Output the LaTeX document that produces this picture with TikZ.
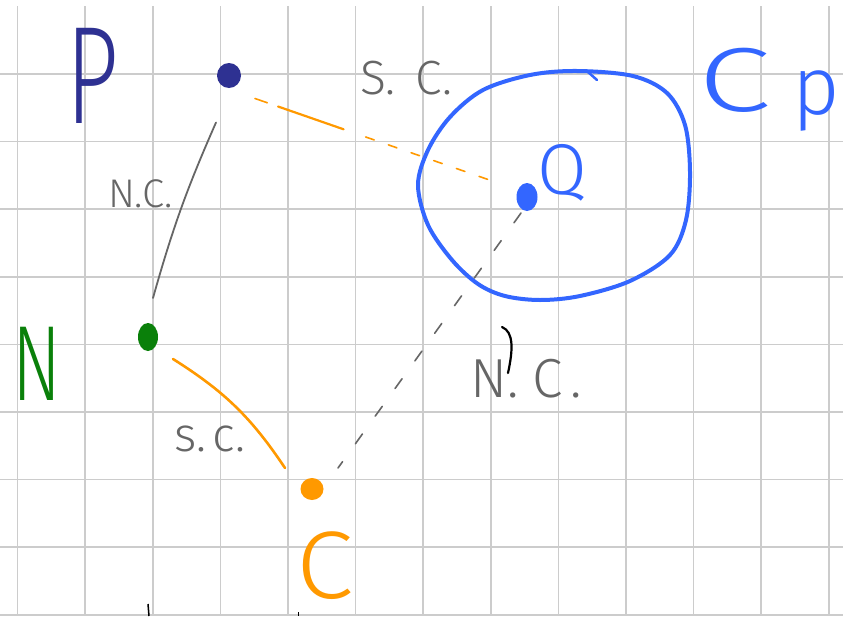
\documentclass[tikz,border=0pt]{standalone}
\usepackage{fontspec}
\usepackage{graphicx}
\newfontfamily\hand{Fira Sans Light}
\usetikzlibrary{calc,shapes.geometric}
\definecolor{pblue}{HTML}{2E3192}
\definecolor{qblue}{HTML}{3366FF}
\definecolor{ngreen}{HTML}{0A800A}
\definecolor{corange}{HTML}{FF9900}
\definecolor{lgray}{HTML}{666666}
\definecolor{gridgray}{HTML}{CCCCCC}
\newcommand\hsz[1]{\hand\fontsize{#1}{#1}\selectfont}
\begin{document}
\begin{tikzpicture}[x=1pt,y=-1pt,
  gridline/.style={draw=gridgray, line width=1.6pt},
  dotnode/.style={ellipse, inner sep=0pt, draw=none},
  lbl/.style={inner sep=0pt, outer sep=0pt},
  scline/.style={draw=corange, line width=2pt, line cap=round},
  ncline/.style={draw=lgray, line width=1.8pt, line cap=round}]
\useasboundingbox[fill=white] (0,0) rectangle (843,616);
% grid
\foreach \i in {0,...,12} \draw[gridline] ({17.5+67.6*\i},6) -- ({17.5+67.6*\i},616);
\foreach \j in {0,...,8} \draw[gridline] (0,{74+67.6*\j}) -- (843,{74+67.6*\j});
% points
\node[dotnode, fill=pblue, minimum width=24pt, minimum height=25pt] (P) at (229,75.5) {};
\node[dotnode, fill=qblue, minimum width=21pt, minimum height=28pt] (Q) at (527,197) {};
\node[dotnode, fill=ngreen, minimum width=20pt, minimum height=28pt] (N) at (148,337) {};
\node[dotnode, fill=corange, minimum width=23pt, minimum height=22pt] (C) at (312,489) {};
% circle Cp
\draw[qblue, line width=4pt] plot[smooth cycle, tension=0.55] coordinates {(577,71) (633,76) (667,93) (685,125) (690,172) (686,220) (670,255) (630,281) (580,296) (540,300) (505,296) (478,284) (452,260) (428,225) (418,185) (428,150) (450,117) (483,90) (530,75)};
\draw[qblue, line width=2.5pt, line cap=round] (588,72) -- (597,80);
% connectors
\draw[ncline] ([shift={(-13,47)}]P.center) to[bend right=4] ([shift={(5,-39)}]N.center);
\coordinate (pq1) at ([shift={(26,23)}]P.center);
\coordinate (pq2) at ([shift={(-26,-13)}]Q.center);
\draw[scline, line width=1.6pt] (pq1) -- ($(pq1)!0.05!(pq2)$);
\draw[scline, line width=2.2pt] ($(pq1)!0.094!(pq2)$) -- ($(pq1)!0.36!(pq2)$);
\draw[scline, line width=1.6pt, dash pattern=on 9pt off 15pt] ($(pq1)!0.45!(pq2)$) -- (pq2);
\draw[scline, line width=2.6pt] ([shift={(25,22)}]N.center) to[bend left=12] ([shift={(-27,-21)}]C.center);
\draw[ncline, line width=1.6pt, dash pattern=on 12pt off 22pt] ([shift={(-6,16)}]Q.center) -- ([shift={(26,-21)}]C.center);
% black marks
\draw[black, line width=2.2pt, line cap=round] (502,327) .. controls (514,332) and (513,350) .. (508,373);
\draw[black, line width=1.5pt] (148,604) -- (149,616);
\draw[black, line width=1pt] (298,612) -- (298,616);
% labels
\node[lbl, text=pblue, font=\hsz{139}] (Plbl) at (93,76) {\scalebox{0.66}[1]{P}};
\node[lbl, text=ngreen, font=\hsz{107}] (Nlbl) at (37,364) {\scalebox{0.68}[1]{N}};
\node[lbl, text=corange, font=\hsz{96}] (Clbl) at (325,566) {\scalebox{1.08}[1]{C}};
\node[lbl, text=qblue, font=\hsz{72}] (Qlbl) at (562,173) {Q};
\node[lbl, text=qblue, font=\hsz{91}, anchor=base west] (Cplbl) at (698,111) {\scalebox{1.45}[1]{C}\hspace{22pt}\raisebox{-3pt}{\hsz{82}p}};
\node[lbl, text=lgray, font=\hsz{48}, anchor=base west] (sc1) at (360,94) {S.\hspace{20pt}C.};
\node[lbl, text=lgray, font=\hsz{40}, anchor=base west] (nc1) at (108,207) {N.C.};
\node[lbl, text=lgray, font=\hsz{48}, anchor=base west] (sc2) at (174,451) {s.\hspace{6pt}c.};
\node[lbl, text=lgray, font=\hsz{55}, anchor=base west] (nc2) at (470,397) {N.\hspace{14pt}C\hspace{8pt}.};
\end{tikzpicture}
\end{document}
